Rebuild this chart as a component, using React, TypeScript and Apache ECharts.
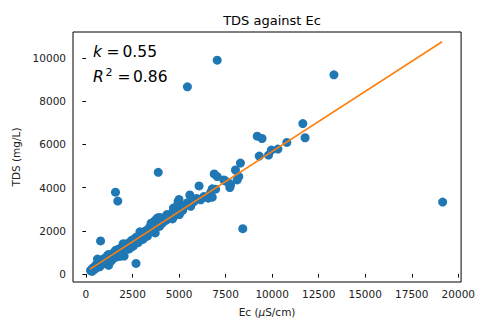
import React, { useEffect, useRef } from "react";
import * as echarts from "echarts";

// Ec (µS/cm), TDS (mg/L) pairs
const clusterPoints: [number, number][] = [
  [250, 160], [300, 210], [320, 120], [380, 280], [420, 190], [460, 330], [500, 250],
  [540, 420], [580, 300], [620, 690], [650, 380], [700, 460], [740, 330], [780, 560],
  [820, 450], [860, 600], [900, 520], [940, 700], [980, 480], [1020, 660], [1060, 760],
  [1100, 580], [1140, 820], [1180, 680], [1220, 400], [1260, 850], [1300, 740], [1340, 900],
  [1380, 800], [1420, 680], [1460, 950], [1500, 870], [1540, 1020], [1580, 920], [1620, 780],
  [1660, 1080], [1700, 1000], [1740, 1150], [1780, 1050], [1820, 820], [1860, 1180],
  [1900, 1100], [1950, 1260], [2000, 1150], [2050, 830], [2100, 1320], [2150, 1230],
  [2200, 1400], [2250, 1300], [2300, 1150], [2350, 1450], [2400, 1370], [2450, 1560],
  [2500, 1440], [2550, 1300], [2600, 1620], [2650, 1520], [2700, 1700], [2750, 1580],
  [2800, 1450], [2850, 1760], [2900, 1660], [2950, 1850], [3000, 1720], [3050, 1600],
  [3100, 1900], [3150, 1800], [3200, 2000], [3250, 1880], [3300, 1750], [3350, 2080],
  [3400, 1960], [3450, 2200], [3500, 2050], [3550, 2300], [3600, 2150], [3650, 2420],
  [3700, 2250], [3720, 1900], [3760, 2520], [3800, 2350], [3850, 2600], [3900, 2450],
  [3950, 2200], [3980, 2620], [4050, 2500], [4100, 2350], [4200, 2550], [4300, 2480],
  [4400, 2650], [4500, 2600], [4600, 2800], [4700, 3050], [4750, 2700], [4850, 2900],
  [4900, 3150], [4950, 3350], [5000, 3450], [5020, 2750], [5100, 3050], [5200, 2950],
  [5300, 3150], [5450, 3300], [5580, 3660], [5630, 3130], [5800, 3350], [5950, 3500],
  [6075, 4078], [6165, 3433], [6340, 3590], [6570, 3511], [6700, 3773], [6785, 3557],
  [6785, 3940], [6890, 4630], [6965, 3925], [7050, 4510], [7410, 4353], [7500, 4300],
  [7680, 4201], [7730, 4004], [7770, 4123], [8030, 4814], [8120, 4353], [8210, 4510],
  [8300, 5136],
  [1200, 900], [1600, 1100], [2000, 1400], [2450, 1250], [2900, 1950], [3100, 1650],
  [3500, 2350], [4000, 2300], [4350, 2750], [4650, 2550], [1350, 600], [1900, 850],
];

const highEcPoints: [number, number][] = [
  [9200, 6380], [9460, 6272], [9310, 5460], [9810, 5505], [9960, 5735], [10310, 5780],
  [10790, 6088], [11650, 6963], [11770, 6305],
];

const outlierPoints: [number, number][] = [
  [785, 1532], [1587, 3787], [1710, 3373], [2690, 490], [3884, 4708], [5450, 8665],
  [7050, 9894], [8424, 2100], [13320, 9218], [19160, 3327],
];

const fitLine: [number, number][] = [
  [200, 212],
  [19130, 10750],
];

const xTicks = [0, 2500, 5000, 7500, 10000, 12500, 15000, 17500, 20000];
const yTicks = [0, 2000, 4000, 6000, 8000, 10000];

const FONT = "DejaVu Sans";

export default function App() {
  const ref = useRef<HTMLDivElement>(null);

  useEffect(() => {
    if (!ref.current) return;
    const chart = echarts.init(ref.current, null, { renderer: "svg" });
    const allPoints = [...clusterPoints, ...highEcPoints, ...outlierPoints];
    const plain = (v: number) => String(v);
    chart.setOption({
      animation: false,
      backgroundColor: "#fff",
      title: {
        text: "TDS against Ec",
        left: 267,
        top: 9,
        textAlign: "center",
        textStyle: { fontFamily: FONT, fontSize: 13, fontWeight: "normal", color: "#000" },
      },
      grid: {
        left: 73,
        right: 15.5,
        top: 32,
        bottom: 37.5,
        show: true,
        borderColor: "#000",
        borderWidth: 1,
        backgroundColor: "transparent",
      },
      xAxis: {
        type: "value",
        min: -695,
        max: 20150,
        splitLine: { show: false },
        axisLine: { show: false },
        axisTick: { show: true, length: 3.5, customValues: xTicks, lineStyle: { color: "#000" } },
        axisLabel: { customValues: xTicks, formatter: plain, fontFamily: FONT, fontSize: 10.5, color: "#222", margin: 6 },
        name: "{n|Ec (}{i|μ}{n|S/cm)}",
        nameLocation: "middle",
        nameGap: 24,
        nameTextStyle: {
          rich: {
            n: { fontFamily: FONT, fontSize: 10.5, color: "#222" },
            i: { fontFamily: FONT, fontSize: 10.5, fontStyle: "italic", color: "#222" },
          },
        },
      },
      yAxis: {
        type: "value",
        min: -370,
        max: 11200,
        splitLine: { show: false },
        axisLine: { show: false },
        axisTick: { show: true, length: 3.5, customValues: yTicks, lineStyle: { color: "#000" } },
        axisLabel: { customValues: yTicks, formatter: plain, fontFamily: FONT, fontSize: 10.5, color: "#222", margin: 7 },
        name: "TDS (mg/L)",
        nameLocation: "middle",
        nameGap: 50,
        nameTextStyle: { fontFamily: FONT, fontSize: 10.5, color: "#222" },
      },
      graphic: [
        { type: "text", x: 93, y: 52, style: { text: "k", fontFamily: FONT, fontSize: 15.5, fontStyle: "italic", fill: "#000", verticalAlign: "middle" } },
        { type: "text", x: 106.5, y: 52, style: { text: "=", fontFamily: FONT, fontSize: 15.5, fill: "#000", verticalAlign: "middle" } },
        { type: "text", x: 122.5, y: 52, style: { text: "0.55", fontFamily: FONT, fontSize: 15.5, fill: "#000", verticalAlign: "middle" } },
        { type: "text", x: 93, y: 76.5, style: { text: "R", fontFamily: FONT, fontSize: 15.5, fontStyle: "italic", fill: "#000", verticalAlign: "middle" } },
        { type: "text", x: 105.5, y: 72, style: { text: "2", fontFamily: FONT, fontSize: 11, fill: "#000", verticalAlign: "middle" } },
        { type: "text", x: 117.5, y: 76.5, style: { text: "=", fontFamily: FONT, fontSize: 15.5, fill: "#000", verticalAlign: "middle" } },
        { type: "text", x: 133, y: 76.5, style: { text: "0.86", fontFamily: FONT, fontSize: 15.5, fill: "#000", verticalAlign: "middle" } },
      ],
      series: [
        {
          type: "scatter",
          data: allPoints,
          symbolSize: 9,
          itemStyle: { color: "#1f77b4", opacity: 1 },
          z: 2,
        },
        {
          type: "line",
          data: fitLine,
          symbol: "none",
          lineStyle: { color: "#ff7f0e", width: 1.6 },
          z: 3,
        },
      ],
    });
    return () => chart.dispose();
  }, []);

  return (
    <div
      ref={ref}
      style={{ position: "fixed", left: 0, top: 0, width: 478, height: 322, background: "#fff" }}
    />
  );
}
